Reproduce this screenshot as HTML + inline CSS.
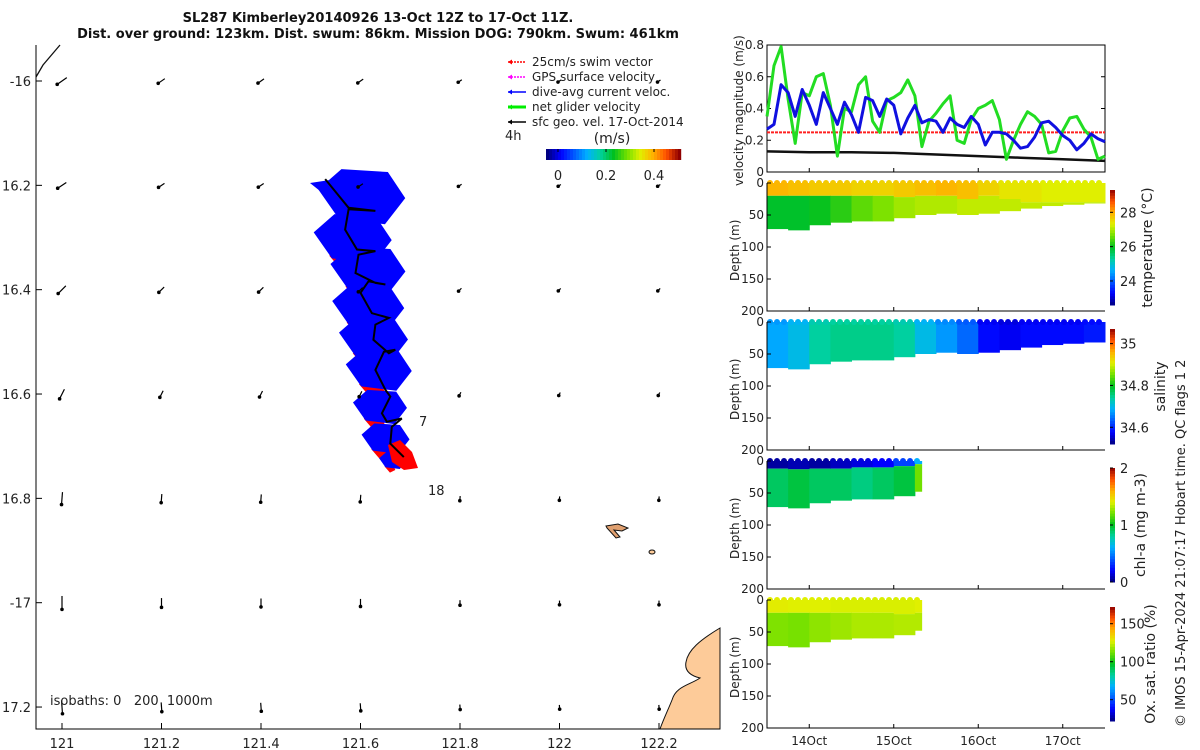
<!DOCTYPE html>
<html><head><meta charset="utf-8"><style>
body{margin:0;background:#fff;}
svg{display:block;font-family:"DejaVu Sans","Liberation Sans",sans-serif;}
</style></head><body>
<svg id="fig" width="1200" height="750" viewBox="0 0 1200 750" xmlns="http://www.w3.org/2000/svg">
<rect width="1200" height="750" fill="#fff"/>
<g font-weight="bold" font-size="13" text-anchor="middle" fill="#111">
<text x="378" y="22">SL287 Kimberley20140926 13-Oct 12Z to 17-Oct 11Z.</text>
<text x="378" y="38">Dist. over ground: 123km. Dist. swum: 86km. Mission DOG: 790km. Swum: 461km</text>
</g>
<g id="map"></g>
<g id="vel"></g>
<g id="secs"></g>
<text transform="translate(1185,727) rotate(-90)" font-size="13" fill="#222">© IMOS 15-Apr-2024 21:07:17 Hobart time. QC flags 1  2</text>
</svg>
<script>
// ---------- velocity data (2-hourly from 13.5 Oct) ----------
const velT0 = 13.5, velStepH = 2;
const netGlider = [0.35,0.67,0.79,0.46,0.18,0.5,0.48,0.6,0.62,0.42,0.1,0.4,0.38,0.55,0.6,0.32,0.25,0.45,0.47,0.5,0.58,0.48,0.16,0.32,0.37,0.43,0.48,0.2,0.18,0.33,0.4,0.42,0.45,0.33,0.08,0.2,0.3,0.38,0.35,0.3,0.12,0.13,0.26,0.34,0.35,0.27,0.22,0.08,0.1];
const diveAvg = [0.27,0.3,0.55,0.5,0.35,0.52,0.42,0.3,0.5,0.4,0.3,0.44,0.36,0.25,0.47,0.45,0.35,0.46,0.42,0.24,0.34,0.42,0.31,0.33,0.32,0.25,0.34,0.3,0.28,0.35,0.3,0.17,0.25,0.25,0.24,0.2,0.15,0.16,0.22,0.31,0.32,0.28,0.23,0.2,0.14,0.18,0.24,0.21,0.19];
const geoT = [13.5,14.0,14.5,15.0,15.5,16.0,16.5,17.0,17.5];
const geoVel = [0.13,0.125,0.125,0.12,0.11,0.1,0.09,0.08,0.07];
const swimVel = 0.25;
const velTicks = [0,0.2,0.4,0.6,0.8];
const dateTicks = [14,15,16,17];
const dateLabels = ["14Oct","15Oct","16Oct","17Oct"];
// ---------- section data ----------
const secTimes = [13.5,13.75,14.0,14.25,14.5,14.75,15.0,15.25,15.5,15.75,16.0,16.25,16.5,16.75,17.0,17.25,17.5];
const bottomDepth = [72,74,66,62,60,60,55,50,48,50,48,44,40,36,34,32,30];
const mixedDepth = [20,20,20,20,20,20,22,20,20,25,20,25,30,30,30,30,30];
const tempUpper = [27.9,27.8,27.7,27.7,27.6,27.6,27.7,27.8,27.9,27.8,27.6,27.4,27.4,27.3,27.3,27.3,27.3];
const tempLower = [25.9,25.9,26.0,26.2,26.5,26.7,26.9,27.0,27.0,27.1,27.1,27.1,27.1,27.1,27.1,27.1,27.1];
const salinity = [34.68,34.70,34.74,34.75,34.75,34.75,34.74,34.70,34.67,34.64,34.58,34.57,34.58,34.58,34.58,34.59,34.59];
const bioTimes = [13.5,13.75,14.0,14.25,14.5,14.75,15.0,15.25,15.33];
const bioBottom = [72,74,66,62,60,60,55,48,48];
const chlTopDepth = [12,13,12,12,10,10,8,5,5];
const chlUpper = [0.05,0.08,0.05,0.1,0.15,0.2,0.35,0.6,0.6];
const chlLower = [0.9,0.95,0.9,0.9,0.85,0.9,0.95,1.2,1.25];
const oxUpper = [128,127,127,126,126,126,126,127,127];
const oxLower = [114,113,116,118,120,120,121,121,122];
const depthTicks = [0,50,100,150,200];
// ---------- map data ----------
const trackLon = [121.529,121.576,121.630,121.576,121.569,121.593,121.630,121.596,121.590,121.630,121.650,121.616,121.600,121.623,121.657,121.630,121.626,121.657,121.670,121.647,121.630,121.650,121.660,121.643,121.653,121.683,121.663,121.660,121.687];
const trackLat = [-16.188,-16.243,-16.249,-16.246,-16.285,-16.323,-16.326,-16.333,-16.368,-16.387,-16.390,-16.384,-16.406,-16.445,-16.454,-16.467,-16.496,-16.522,-16.515,-16.519,-16.554,-16.592,-16.605,-16.637,-16.653,-16.647,-16.663,-16.695,-16.721];
const blobLon = [121.62,121.6,121.63,121.63,121.64,121.65,121.65,121.66,121.67];
const blobLat = [-16.23,-16.31,-16.37,-16.44,-16.5,-16.56,-16.63,-16.69,-16.73];
const blobSize = [58,52,50,48,46,44,36,32,18];
const gridLon = [121,121.2,121.4,121.6,121.8,122,122.2];
const gridLat = [-16,-16.2,-16.4,-16.6,-16.8,-17,-17.2];
const rowU = [-0.1,-0.09,-0.08,-0.05,-0.01,0,0.01];
const rowV = [-0.07,-0.06,-0.08,-0.1,-0.13,-0.14,-0.14];
const colScale = [1.6,1.1,1,0.9,0.6,0.5,0.5];
const lonTicks = [121,121.2,121.4,121.6,121.8,122,122.2];
const latTicks = [-16,-16.2,-16.4,-16.6,-16.8,-17,-17.2];
const latLabels = ["-16","16.2","16.4","16.6","16.8","-17","17.2"];

const NS="http://www.w3.org/2000/svg";
function mk(tag,attrs,parent,name,inter){const e=document.createElementNS(NS,tag);for(const k in attrs)e.setAttribute(k,attrs[k]);parent.appendChild(e);


return e;}
function txt(s,x,y,parent,name,extra){const t=mk('text',Object.assign({x:x,y:y,'font-size':12,fill:'#222'},extra||{}),parent,name,false);t.textContent=s;return t;}
function cl(v){return Math.max(0,Math.min(1,v));}
const stops=[[0,[0,0,128]],[0.1,[0,0,255]],[0.3,[0,176,255]],[0.4,[0,208,160]],[0.5,[0,192,32]],[0.6,[112,224,0]],[0.7,[224,240,0]],[0.8,[255,176,0]],[0.9,[255,80,0]],[1,[144,0,0]]];
function jet(t){t=cl(t);let i=0;while(i<stops.length-2&&t>stops[i+1][0])i++;const a=stops[i],b=stops[i+1],f=(t-a[0])/(b[0]-a[0]);
const c=a[1].map((v,k)=>Math.round(v+(b[1][k]-v)*f));return `rgb(${c[0]},${c[1]},${c[2]})`;}

// ---------- map ----------
const map=document.getElementById('map');
const mx=lon=>62+(lon-121)*497.5, my=lat=>81+(-16-lat)*521.7;
mk('path',{d:'M720,628 C700,640 688,650 686,662 C684,672 692,676 700,678 C690,685 676,686 672,700 C668,710 664,718 660,729 L720,729 Z',fill:'#fdcb99',stroke:'#111','stroke-width':1},map,'land-mainland');
mk('path',{d:'M606,526 L618,524 L628,528 L622,531 L614,530 L620,537 L616,538 L607,528 Z',fill:'#e0a070',stroke:'#111','stroke-width':1},map,'island');
mk('ellipse',{cx:652,cy:552,rx:3,ry:2,fill:'#fdcb99',stroke:'#111'},map,'island');
mk('path',{d:'M36,77 L43,65 L60,45',fill:'none',stroke:'#111','stroke-width':1.3},map,'coastline');
blobLon.forEach((lo,i)=>{const cx=mx(lo),cy=my(blobLat[i]),s=blobSize[i];
 mk('polygon',{points:`${cx-s*0.6},${cy+s*0.25} ${cx-s*0.3},${cy+s*0.6} ${cx},${cy+s*0.45} ${cx-s*0.2},${cy} `,fill:'#ff0000'},map,'swim-vector-patch');});
blobLon.forEach((lo,i)=>{const cx=mx(lo),cy=my(blobLat[i]),s=blobSize[i];
 mk('polygon',{points:`${cx-s*0.9},${cy-s*0.2} ${cx-s*0.5},${cy-s*0.55} ${cx+s*0.3},${cy-s*0.5} ${cx+s*0.6},${cy-s*0.05} ${cx+s*0.25},${cy+s*0.4} ${cx-s*0.55},${cy+s*0.3}`,fill:'#0000ff'},map,'current-vector-patch');});
mk('polygon',{points:'388,445 400,440 412,452 418,468 404,470 392,462',fill:'#ff0000'},map,'swim-vector-patch');
mk('polygon',{points:'310,183 330,180 325,195',fill:'#0000ff'},map,'current-vector-patch');
let tp='';trackLon.forEach((lo,i)=>{tp+=(i?'L':'M')+mx(lo).toFixed(1)+','+my(trackLat[i]).toFixed(1);});
mk('path',{d:tp,fill:'none',stroke:'#000','stroke-width':2},map,'glider-track');
gridLat.forEach((la,r)=>{gridLon.forEach((lo,c)=>{const x=mx(lo),y=my(la),dx=rowU[r]*60*colScale[c],dy=-rowV[r]*60*colScale[c];
 mk('line',{x1:x-dx/2,y1:y-dy/2,x2:x+dx/2,y2:y+dy/2,stroke:'#000','stroke-width':1.2},map,'geostrophic-vector');
 mk('circle',{cx:x+dx/2,cy:y+dy/2,r:1.8,fill:'#000'},map,'vector-head');});});
mk('path',{d:'M36,45 L36,729 L720,729',fill:'none',stroke:'#000','stroke-width':1},map,'map-axes');
lonTicks.forEach(l=>{const x=mx(l);mk('line',{x1:x,y1:729,x2:x,y2:723,stroke:'#000'},map,'x-tick');txt(String(l),x,748,map,'x-tick-label',{'text-anchor':'middle','font-size':13});});
latTicks.forEach((l,i)=>{const y=my(l);mk('line',{x1:36,y1:y,x2:42,y2:y,stroke:'#000'},map,'y-tick');txt(latLabels[i],31,y+5,map,'y-tick-label',{'text-anchor':'end','font-size':13});});
txt('7',419,426,map,'time-label',{'font-size':13});
txt('18',428,495,map,'time-label',{'font-size':13});
txt('isobaths: 0\u00a0\u00a0\u00a0200\u00a0\u00a01000m',50,705,map,'isobath-label',{'font-size':13});
const leg=[['25cm/s swim vector','#ff0000'],['GPS surface velocity','#ff00ff'],['dive-avg current veloc.','#0000ff'],['net glider velocity','#00ee00'],['sfc geo. vel. 17-Oct-2014','#000']];
leg.forEach((l,i)=>{const y=62+i*15;mk('line',{x1:508,y1:y,x2:526,y2:y,stroke:l[1],'stroke-width':i==3?3:1.5,'stroke-dasharray':i<2?'2,1':''},map,'legend-line');
 mk('path',{d:`M508,${y} l4,-2.5 l0,5 z`,fill:l[1]},map,'legend-arrowhead');
 txt(l[0],532,y+4,map,'legend-entry',{'font-size':12});});
txt('4h',505,140,map,'legend-4h',{'font-size':13});
txt('(m/s)',612,143,map,'colorbar-unit',{'text-anchor':'middle','font-size':14});
for(let i=0;i<45;i++)mk('rect',{x:546+i*3,y:149,width:3.2,height:11,fill:jet(i/44)},map,'colorbar-cell');
[0,0.2,0.4].forEach(v=>{const x=558+v*240;mk('line',{x1:x,y1:149,x2:x,y2:152,stroke:'#000'},map,'colorbar-tick');txt(String(v),x,180,map,'colorbar-label',{'text-anchor':'middle','font-size':13});});

// ---------- velocity panel ----------
const vel=document.getElementById('vel');
const X0=767,X1=1105; const tx=d=>X0+(d-13.5)*84.5;
const vy=v=>172-v*158.75;
mk('rect',{x:X0,y:45,width:X1-X0,height:127,fill:'none',stroke:'#000'},vel,'velocity-axes-box');
velTicks.forEach(v=>{mk('line',{x1:X0,y1:vy(v),x2:X0+4,y2:vy(v),stroke:'#000'},vel,'y-tick');mk('line',{x1:X1,y1:vy(v),x2:X1-4,y2:vy(v),stroke:'#000'},vel,'y-tick');txt(String(v),X0-3,vy(v)+4,vel,'y-tick-label',{'text-anchor':'end','font-size':12});});
dateTicks.forEach(d=>{mk('line',{x1:tx(d),y1:172,x2:tx(d),y2:168,stroke:'#000'},vel,'x-tick');});
txt('velocity magnitude (m/s)',0,0,vel,'velocity-y-title',{transform:'translate(743,186) rotate(-90)','font-size':12});
mk('line',{x1:X0,y1:vy(swimVel),x2:X1,y2:vy(swimVel),stroke:'#ff2020','stroke-width':2,'stroke-dasharray':'3,1'},vel,'swim-velocity-line');
function line(ts,vals,col,w,name){let d='';vals.forEach((v,i)=>{d+=(i?'L':'M')+tx(ts(i)).toFixed(1)+','+vy(v).toFixed(1);});mk('path',{d:d,fill:'none',stroke:col,'stroke-width':w,'stroke-linejoin':'round'},vel,name);}
line(i=>geoT[i],geoVel,'#111',2.5,'geostrophic-velocity-line');
line(i=>velT0+i*velStepH/24,netGlider,'#22dd22',3,'net-glider-velocity-line');
line(i=>velT0+i*velStepH/24,diveAvg,'#1010e0',3,'dive-avg-current-line');

// ---------- sections ----------
const secs=document.getElementById('secs');
const panels=[{top:183,name:'temperature'},{top:322,name:'salinity'},{top:461,name:'chlorophyll'},{top:600,name:'oxygen'}];
function dy(p,d){return p.top+d*0.64;}
function section(p,times,bottom,colorFn,splitDepth){const g=mk('g',{},secs,p.name+'-section',false);
 for(let i=0;i<times.length-1;i++){const x0=tx(times[i]),x1=tx(times[i+1])+0.5;
  const sd=splitDepth?splitDepth[i]:0;
  if(sd>0)mk('rect',{x:x0,y:dy(p,0),width:x1-x0,height:sd*0.64,fill:colorFn(i,0)},g,p.name+'-upper-cell');
  mk('rect',{x:x0,y:dy(p,sd),width:x1-x0,height:(bottom[i]-sd)*0.64,fill:colorFn(i,1)},g,p.name+'-lower-cell');}
 const last=times.length-1;
 for(let x=tx(times[0])+3;x<tx(times[last]);x+=7){let i=0;while(i<last-1&&tx(times[i+1])<x)i++;mk('circle',{cx:x,cy:dy(p,0),r:3,fill:colorFn(i,0)},g,p.name+'-surface-dot');}
}
function axes(p,cbTop,cbBot,cbTicks,cbMin,cbMax,label,labelX,last){
 mk('path',{d:`M${X0},${p.top} L${X0},${p.top+128} L${X1},${p.top+128}`,fill:'none',stroke:'#000'},secs,p.name+'-axes');
 depthTicks.forEach(d=>{const y=dy(p,d);mk('line',{x1:X0,y1:y,x2:X0+4,y2:y,stroke:'#000'},secs,'depth-tick');txt(String(d),X0-3,y+4,secs,'depth-tick-label',{'text-anchor':'end','font-size':12});});
 dateTicks.forEach((d,i)=>{mk('line',{x1:tx(d),y1:p.top+128,x2:tx(d),y2:p.top+124,stroke:'#000'},secs,'x-tick');if(last)txt(dateLabels[i],tx(d),p.top+145,secs,'date-label',{'text-anchor':'middle','font-size':12});});
 txt('Depth (m)',0,0,secs,'depth-axis-title',{transform:`translate(739,${p.top+98}) rotate(-90)`,'font-size':12});
 const n=40,h=(cbBot-cbTop)/n;for(let i=0;i<n;i++)mk('rect',{x:1110,y:cbTop+i*h,width:5,height:h+0.5,fill:jet(1-(i+0.5)/n)},secs,p.name+'-colorbar-cell');
 cbTicks.forEach(v=>{const y=cbBot-(v-cbMin)/(cbMax-cbMin)*(cbBot-cbTop);mk('line',{x1:1110,y1:y,x2:1113,y2:y,stroke:'#000'},secs,'colorbar-tick');txt(String(v),1120,y+5,secs,'colorbar-label',{'font-size':13});});
 txt(label,0,0,secs,p.name+'-colorbar-title',{transform:`translate(${labelX},${(cbTop+cbBot)/2}) rotate(-90)`,'font-size':14,'text-anchor':'middle'});
}
const tN=v=>(v-22.6)/(29.3-22.6), sN=v=>(v-34.52)/(35.07-34.52), cN=v=>v/2, oN=v=>(v-22)/(172-22);
section(panels[0],secTimes,bottomDepth,(i,k)=>jet(tN(k?tempLower[i]:tempUpper[i])),mixedDepth);
section(panels[1],secTimes,bottomDepth,(i,k)=>jet(sN(salinity[i]-(k?0:0.01))),null);
section(panels[2],bioTimes,bioBottom,(i,k)=>jet(cN(k?chlLower[i]:chlUpper[i])),chlTopDepth);
section(panels[3],bioTimes,bioBottom,(i,k)=>jet(oN(k?oxLower[i]:oxUpper[i])),mixedDepth);
axes(panels[0],190,305,[24,26,28],22.6,29.3,'temperature (°C)',1152,false);
axes(panels[1],329,444,[34.6,34.8,35],34.52,35.07,'salinity',1165,false);
axes(panels[2],468,582,[0,1,2],0,2,'chl-a (mg m-3)',1145,false);
axes(panels[3],607,721,[50,100,150],22,172,'Ox. sat. ratio (%)',1155,true);
</script>
</body></html>
